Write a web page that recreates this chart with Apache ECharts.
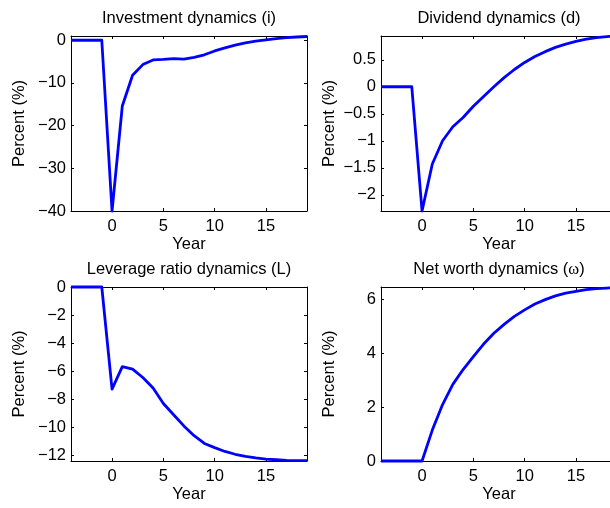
<!DOCTYPE html>
<html>
<head>
<meta charset="utf-8">
<script src="https://cdn.jsdelivr.net/npm/echarts@6/dist/echarts.min.js"></script>
<style>
html,body{margin:0;padding:0;background:#fff;}
#chart{width:610px;height:508px;}
</style>
</head>
<body>
<div id="chart"></div>
<script>
// ---- data ----
const years = [-4,-3,-2,-1,0,1,2,3,4,5,6,7,8,9,10,11,12,13,14,15,16,17,18,19];
const investment = [0,0,0,0,-40,-15.4,-8.2,-5.7,-4.6,-4.5,-4.3,-4.4,-4.0,-3.4,-2.5,-1.8,-1.15,-0.6,-0.2,0.1,0.4,0.6,0.77,0.88];
const dividend = [0,0,0,0,-2.3,-1.43,-1.0,-0.74,-0.57,-0.36,-0.18,0.0,0.17,0.32,0.45,0.56,0.65,0.73,0.79,0.84,0.88,0.91,0.93,0.94];
const leverage = [0,0,0,0,-7.28,-5.68,-5.85,-6.45,-7.2,-8.3,-9.1,-9.9,-10.6,-11.15,-11.45,-11.72,-11.92,-12.07,-12.18,-12.26,-12.31,-12.35,-12.37,-12.38];
const netWorth = [0,0,0,0,0,1.15,2.1,2.85,3.4,3.88,4.35,4.75,5.08,5.38,5.62,5.84,6.0,6.14,6.24,6.31,6.37,6.41,6.43,6.45];
const xTicks = [0,5,10,15];
const invTicks = [-40,-30,-20,-10,0];
const divTicks = [-2,-1.5,-1,-0.5,0,0.5];
const levTicks = [-12,-10,-8,-6,-4,-2,0];
const nwTicks = [0,2,4,6];
const titles = ['Investment dynamics (i)','Dividend dynamics (d)','Leverage ratio dynamics (L)','Net worth dynamics ({w|ω})'];
const xName = 'Year';
const yName = 'Percent (%)';

// ---- layout / style ----
const FONT = 'Liberation Sans, Arial, Helvetica, sans-serif';
const FS = 16.5;
const panels = [
  {title: titles[0], data: investment, yMin: -40, yMax: 1, yTicks: invTicks, left: 71, top: 36, height: 175},
  {title: titles[1], data: dividend, yMin: -2.3, yMax: 0.94, yTicks: divTicks, left: 381, top: 36, height: 175},
  {title: titles[2], data: leverage, yMin: -12.4, yMax: 0, yTicks: levTicks, left: 71, top: 287, height: 174},
  {title: titles[3], data: netWorth, yMin: 0, yMax: 6.47, yTicks: nwTicks, left: 381, top: 287, height: 174}
];
const W = 236;
const fmt = v => (v < 0 ? '\u2212' : '') + Math.abs(v);
const lineCol = '#000';

const option = {
  animation: false,
  backgroundColor: '#fff',
  title: [], grid: [], xAxis: [], yAxis: [], series: []
};

panels.forEach((p, i) => {
  option.title.push({
    text: p.title,
    left: p.left + W / 2,
    top: p.top - 26,
    textAlign: 'center',
    padding: 0,
    textStyle: {
      fontSize: FS, fontWeight: 'normal', color: '#000', fontFamily: FONT,
      rich: { w: { fontSize: FS, fontFamily: 'Liberation Serif, serif', color: '#000' } }
    }
  });
  option.grid.push({left: p.left, top: p.top, width: W, height: p.height, containLabel: false, outerBoundsMode: 'none'});
  const xCommon = {
    type: 'value', gridIndex: i, min: -4, max: 19,
    splitLine: {show: false},
    axisLine: {show: true, onZero: false, lineStyle: {color: lineCol, width: 1}},
    axisTick: {show: true, inside: true, length: 3, customValues: xTicks, lineStyle: {color: lineCol}}
  };
  option.xAxis.push(Object.assign({}, xCommon, {
    position: 'bottom',
    name: xName, nameLocation: 'middle', nameGap: 25,
    nameTextStyle: {fontSize: FS, color: '#000', fontFamily: FONT},
    axisLabel: {show: true, customValues: xTicks, formatter: fmt, fontSize: FS, color: '#000', fontFamily: FONT, margin: 7}
  }));
  option.xAxis.push(Object.assign({}, xCommon, {
    position: 'top', axisLabel: {show: false}
  }));
  const yCommon = {
    type: 'value', gridIndex: i, min: p.yMin, max: p.yMax,
    splitLine: {show: false},
    axisLine: {show: true, onZero: false, lineStyle: {color: lineCol, width: 1}},
    axisTick: {show: true, inside: true, length: 3, customValues: p.yTicks, lineStyle: {color: lineCol}}
  };
  option.yAxis.push(Object.assign({}, yCommon, {
    position: 'left',
    name: yName, nameLocation: 'middle', nameGap: 43,
    nameTextStyle: {fontSize: FS, color: '#000', fontFamily: FONT},
    axisLabel: {show: true, customValues: p.yTicks, formatter: fmt, fontSize: FS, color: '#000', fontFamily: FONT, margin: 5}
  }));
  option.yAxis.push(Object.assign({}, yCommon, {
    position: 'right', axisLabel: {show: false}
  }));
  option.series.push({
    type: 'line',
    xAxisIndex: 2 * i, yAxisIndex: 2 * i,
    data: years.map((y, k) => [y, p.data[k]]),
    showSymbol: false, symbol: 'none',
    clip: false,
    lineStyle: {color: '#0000ff', width: 2.8, join: 'round'},
    z: 1
  });
});

const chart = echarts.init(document.getElementById('chart'), null, {renderer: 'canvas'});
chart.setOption(option);
</script>
</body>
</html>
